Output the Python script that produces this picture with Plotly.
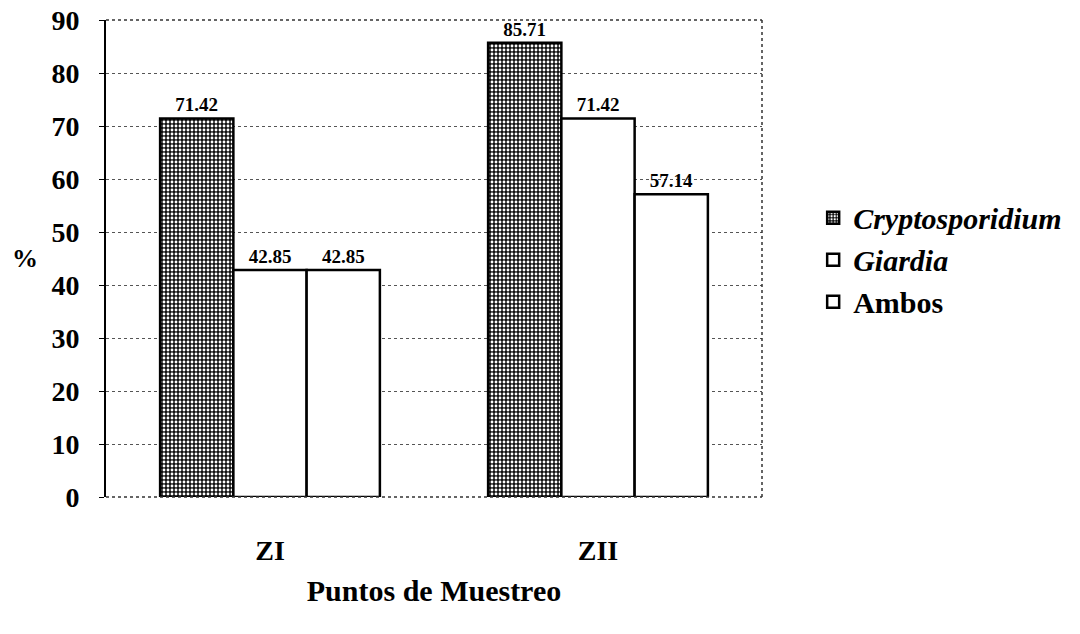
import plotly.graph_objects as go

# Sampling points and detection percentages per parasite
puntos = ["ZI", "ZII"]
cryptosporidium = [71.42, 85.71]
giardia = [42.85, 71.42]
ambos = [42.85, 57.14]
y_ticks = [0, 10, 20, 30, 40, 50, 60, 70, 80, 90]

FONT = "Liberation Serif"
label_font = dict(family=FONT, size=19, color="black")

fig = go.Figure()

fig.add_trace(go.Bar(
    name="<b><i>Cryptosporidium</i></b>", x=puntos, y=cryptosporidium,
    marker=dict(
        color="black",
        line=dict(color="black", width=2.5),
        pattern=dict(shape=".", fgcolor="white", bgcolor="#111111",
                     size=4, solidity=0.4, fillmode="replace"),
    ),
    texttemplate="<b>%{y:.2f}</b>", textposition="outside",
    textfont=label_font, cliponaxis=False, legendgroup="a",
))
fig.add_trace(go.Bar(
    name="<b><i>Giardia</i></b>", x=puntos, y=giardia,
    marker=dict(color="white", line=dict(color="black", width=2.5)),
    texttemplate="<b>%{y:.2f}</b>", textposition="outside",
    textfont=label_font, cliponaxis=False, legendgroup="b",
))
fig.add_trace(go.Bar(
    name="<b>Ambos</b>", x=puntos, y=ambos,
    marker=dict(color="white", line=dict(color="black", width=2.5)),
    texttemplate="<b>%{y:.2f}</b>", textposition="outside",
    textfont=label_font, cliponaxis=False, legendgroup="c",
))

fig.update_layout(
    width=1080, height=634,
    margin=dict(l=106, r=318, t=20, b=137, autoexpand=False),
    paper_bgcolor="white", plot_bgcolor="white",
    barmode="group", bargap=0.33, bargroupgap=0,
    font=dict(family=FONT, color="black"),
    legend=dict(
        x=1.078, xanchor="left", xref="paper", y=0.64, yanchor="top",
        font=dict(family=FONT, size=30, color="black"),
        traceorder="grouped", tracegroupgap=0,
        bgcolor="rgba(0,0,0,0)", itemwidth=30,
    ),
    showlegend=True,
)

fig.update_yaxes(
    range=[0, 90], tickvals=y_ticks,
    ticktext=[f"<b>{v}</b>" for v in y_ticks],
    tickfont=dict(family=FONT, size=28, color="black"),
    ticks="outside", ticklen=5, tickcolor="black",
    ticklabelstandoff=14, automargin=False,
    showline=True, linecolor="black", linewidth=2,
    showgrid=True, gridcolor="#555555", gridwidth=1, griddash="dot",
    zeroline=False,
)
fig.update_xaxes(
    tickvals=puntos, ticktext=[f"<b>{p}</b>" for p in puntos],
    tickfont=dict(family=FONT, size=28, color="black"),
    ticklabelstandoff=34, ticks="", automargin=False,
    showline=False,
    title=dict(text="<b>Puntos de Muestreo</b>",
               font=dict(family=FONT, size=30, color="black"), standoff=14),
)

# Horizontal "%" label beside the value axis
fig.add_annotation(text="<b>%</b>", xref="paper", yref="paper",
                   x=-0.123, y=0.5, xanchor="center", yanchor="middle",
                   showarrow=False,
                   font=dict(family=FONT, size=26, color="black"))

# Dotted frame on the top, right and bottom of the plotting area
for x0, y0, x1, y1 in [(0, 1, 1, 1), (1, 0, 1, 1), (0, 0, 1, 0)]:
    fig.add_shape(type="line", xref="paper", yref="paper",
                  x0=x0, y0=y0, x1=x1, y1=y1,
                  line=dict(color="#333333", width=1.5, dash="dot"))

fig.write_html("out.html")
